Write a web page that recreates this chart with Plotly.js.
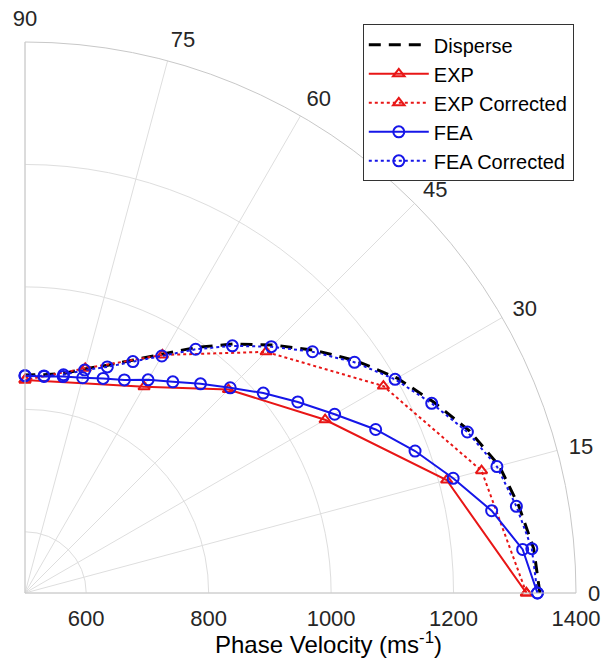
<!DOCTYPE html>
<html>
<head>
<meta charset="utf-8">
<script src="https://cdn.plot.ly/plotly-3.0.1.min.js"></script>
<style>html,body{margin:0;padding:0;background:#fff;}#chart{width:602px;height:659px;}</style>
</head>
<body>
<div id="chart"></div>
<script>
// Angles (degrees)
var angles5 = [0,5,10,15,20,25,30,35,40,45,50,55,60,65,70,75,80,85,90];
var anglesExp = [0,15,30,45,60,90];
var anglesExpCorr = [0,15,30,45,60,75,90];

// Phase velocity values (m/s)
var disperse = [1341,1334,1319,1302,1273,1237,1202,1161,1117,1073,1031,990,951,920,896,879,864,858,856];
var expVals = [1319,1213,1066,970,889,848];
var expCorrVals = [1319,1272,1176,1057,949,880,848];
var feaVals = [1337,1316,1274,1224,1178,1132,1084,1044,1008,974,946,921,902,884,873,864,859,855,855];
var feaCorrVals = [1337,1331,1315,1298,1269,1233,1198,1157,1113,1069,1027,986,947,917,893,877,862,856,855];

var radialTicks = [600,800,1000,1200,1400];
var angularTicks = [0,15,30,45,60,75,90];
var radialTitle = 'Phase Velocity (ms<sup>-1</sup>)';

var RED = 'rgb(232,22,22)';
var BLUE = 'rgb(22,22,232)';
var FONT = 'Liberation Sans, Arial, sans-serif';

var traces = [
  {type:'scatterpolar', r:disperse, theta:angles5, name:'Disperse', mode:'lines',
   line:{color:'#000', width:3, dash:'12px,8px'}},
  {type:'scatterpolar', r:expVals, theta:anglesExp, name:'EXP', mode:'lines+markers',
   line:{color:RED, width:2}, marker:{symbol:'triangle-up-open', size:10, color:RED, line:{width:2, color:RED}}},
  {type:'scatterpolar', r:expCorrVals, theta:anglesExpCorr, name:'EXP Corrected', mode:'lines+markers',
   line:{color:RED, width:2, dash:'dot'}, marker:{symbol:'triangle-up-open', size:10, color:RED, line:{width:2, color:RED}}},
  {type:'scatterpolar', r:feaVals, theta:angles5, name:'FEA', mode:'lines+markers',
   line:{color:BLUE, width:2}, marker:{symbol:'circle-open', size:11, color:BLUE, line:{width:2, color:BLUE}}},
  {type:'scatterpolar', r:feaCorrVals, theta:angles5, name:'FEA Corrected', mode:'lines+markers',
   line:{color:BLUE, width:2, dash:'dot'}, marker:{symbol:'circle-open', size:11, color:BLUE, line:{width:2, color:BLUE}}}
];

var layout = {
  width:602, height:659,
  margin:{l:25, r:26, t:42, b:66},
  paper_bgcolor:'#fff',
  font:{family:FONT, size:22, color:'#262626'},
  showlegend:true,
  legend:{x:0.996, xanchor:'right', y:1.032, yanchor:'top', bgcolor:'#fff',
          bordercolor:'#333', borderwidth:1, font:{family:FONT, size:20, color:'#000'},
          itemwidth:60, tracegroupgap:0},
  polar:{
    domain:{x:[0,1], y:[0,1]},
    sector:[0,90],
    bgcolor:'#fff',
    radialaxis:{range:[500,1400], tickvals:radialTicks, ticktext:radialTicks.map(String),
      angle:0, side:'clockwise', showline:false, gridcolor:'#dedede', gridwidth:1,
      ticks:'outside', ticklen:6, tickcolor:'rgba(0,0,0,0)',
      tickfont:{family:FONT, size:22, color:'#262626'}},
    angularaxis:{thetaunit:'degrees', direction:'counterclockwise', rotation:0,
      tickvals:angularTicks, ticktext:angularTicks.map(String),
      showline:true, linecolor:'#c8c8c8', linewidth:1, gridcolor:'#dedede', gridwidth:1,
      ticks:'outside', ticklen:7, tickcolor:'rgba(0,0,0,0)',
      tickfont:{family:FONT, size:22, color:'#262626'}}
  },
  annotations:[{text:radialTitle, xref:'paper', yref:'paper', x:0.55, y:-0.09,
    xanchor:'center', yanchor:'middle', showarrow:false,
    font:{family:FONT, size:24, color:'#000'}}]
};

Plotly.newPlot('chart', traces, layout, {displayModeBar:false, staticPlot:true});
</script>
</body>
</html>
